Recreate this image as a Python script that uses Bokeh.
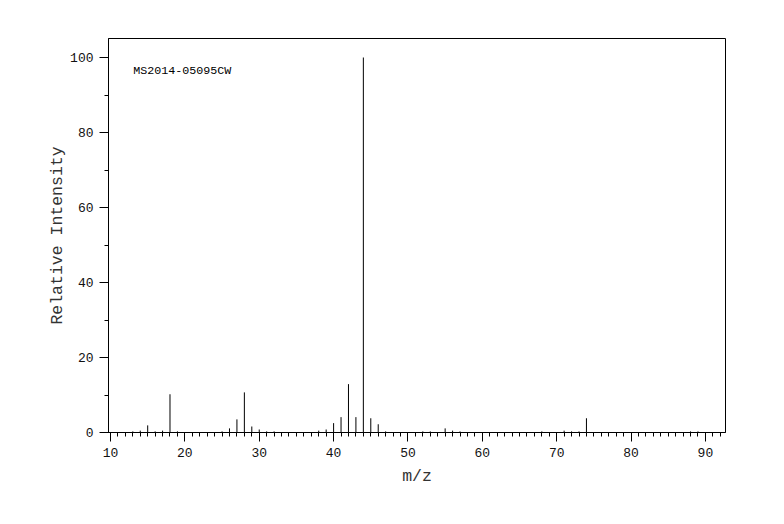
from bokeh.plotting import figure
from bokeh.models import Range1d, SingleIntervalTicker, Label, ColumnDataSource
from bokeh.embed import file_html
from bokeh.resources import INLINE

# Data
mz = [13, 14, 15, 16, 17, 18, 19, 25, 26, 27, 28, 29, 30, 31, 32,
      38, 39, 40, 41, 42, 43, 44, 45, 46, 47, 52, 53, 55, 56, 57,
      68, 71, 72, 73, 74, 88, 89]
intensity = [0.3, 0.5, 1.9, 0.3, 0.5, 10.2, 0.3, 0.3, 1.1, 3.5, 10.7, 1.6, 0.8, 0.3, 0.3,
             0.5, 0.8, 2.5, 4.1, 12.9, 4.1, 100, 3.8, 2.2, 0.3, 0.3, 0.3, 1.1, 0.5, 0.3,
             0.3, 0.5, 0.3, 0.3, 3.8, 0.3, 0.3]
baseline = [0] * len(mz)
title_text = "MS2014-05095CW"
x_label = "m/z"
y_label = "Relative Intensity"

FONT = "Liberation Mono"

src = ColumnDataSource(dict(mz=mz, inten=intensity, base=baseline))

p = figure(width=784, height=524, output_backend="svg", toolbar_location=None,
           x_range=Range1d(9.73, 92.7), y_range=Range1d(0, 105.07),
           min_border_left=108, min_border_right=59, min_border_top=38,
           min_border_bottom=92)
p.background_fill_color = "white"
p.border_fill_color = "white"
p.outline_line_color = "black"
p.outline_line_width = 1
p.xgrid.visible = False
p.ygrid.visible = False

p.segment(x0="mz", y0="base", x1="mz", y1="inten", source=src,
          line_color="black", line_width=1)

p.xaxis.ticker = SingleIntervalTicker(interval=10, num_minor_ticks=10)
p.yaxis.ticker = SingleIntervalTicker(interval=20, num_minor_ticks=2)

for ax in (p.xaxis[0], p.yaxis[0]):
    ax.axis_line_color = "black"
    ax.major_tick_line_color = "black"
    ax.minor_tick_line_color = "black"
    ax.major_tick_in = 0
    ax.major_tick_out = 9
    ax.minor_tick_in = 0
    ax.minor_tick_out = 4
    ax.major_label_text_font = FONT
    ax.major_label_text_font_size = "13px"
    ax.major_label_text_color = "#111111"
    ax.axis_label_text_font = FONT
    ax.axis_label_text_font_size = "16.5px"
    ax.axis_label_text_font_style = "normal"
    ax.axis_label_text_color = "#333333"

p.xaxis.axis_label = x_label
p.yaxis.axis_label = y_label
p.xaxis.major_label_standoff = 6
p.xaxis.axis_label_standoff = 7
p.yaxis.major_label_standoff = 6
p.yaxis.axis_label_standoff = 0

p.add_layout(Label(x=13.05, y=96.3, text=title_text, text_font=FONT,
                   text_font_size="11.7px", text_color="black",
                   text_baseline="middle", text_align="left"))

open("out.html", "w").write(file_html(p, INLINE))
